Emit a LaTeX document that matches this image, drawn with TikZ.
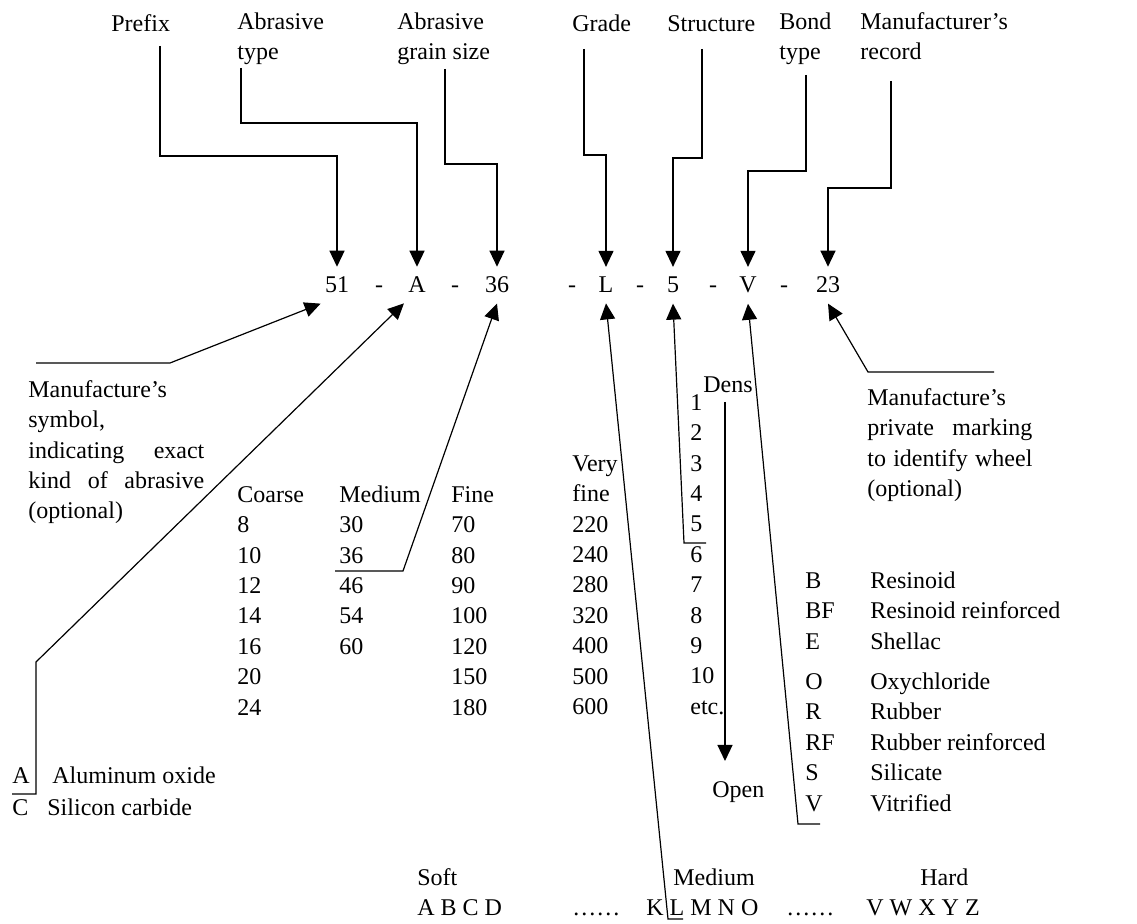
\documentclass[tikz,border=0pt]{standalone}
\usepackage{fontspec}
\setmainfont{Liberation Serif}
\usetikzlibrary{arrows.meta}
\tikzset{
  lbl/.style={inner sep=0pt, anchor=north west, align=left, yshift=10.64pt,
    execute at begin node=\strut},
  code/.style={inner xsep=2pt, inner ysep=5pt, anchor=base},
  arr/.style={-{Triangle[length=8pt,width=7.5pt]}, line width=0.6pt},
}
\newcommand{\jline}[2]{\makebox[#1][s]{#2}}
\begin{document}
\begin{tikzpicture}[x=0.5pt,y=-0.5pt,
  every node/.style={font=\fontsize{12}{15.2}\selectfont}]
\useasboundingbox (0,0) rectangle (1137,924);
% the marking
\node[code] (c51) at (337,293) {51};
\node[code] (d1) at (379,293) {-};
\node[code] (cA) at (417,293) {A};
\node[code] (d2) at (455,293) {-};
\node[code] (c36) at (497,293) {36};
\node[code] (d3) at (572,293) {-};
\node[code] (cL) at (606,293) {L};
\node[code] (d4) at (640,293) {-};
\node[code] (c5) at (673,293) {5};
\node[code] (d5) at (713,293) {-};
\node[code] (cV) at (748,293) {V};
\node[code] (d6) at (784,293) {-};
\node[code] (c23) at (828,293) {23};
% headings
\node[lbl] (tPrefix) at (111,31) {Prefix};
\node[lbl] (tType) at (237,29) {\strut Abrasive\\type};
\node[lbl] (tGrain) at (397,29) {\strut Abrasive\\grain size};
\node[lbl] (tGrade) at (572,31) {Grade};
\node[lbl] (tStruct) at (667,31) {Structure};
\node[lbl] (tBond) at (779,29) {\strut Bond\\type};
\node[lbl] (tRecord) at (860,29) {\strut Manufacturer's\\record};
\coordinate (pfxs) at (160,46);
\coordinate (types) at (241,68);
\coordinate (grains) at (445,69);
\coordinate (grades) at (584,49);
\coordinate (structs) at (702,49);
\coordinate (bonds) at (806,75);
\coordinate (records) at (891,81);
\draw[arr] (pfxs) -- (pfxs |- 0,156) -| (c51.north);
\draw[arr] (types) -- (types |- 0,123) -| (cA.north);
\draw[arr] (grains) -- (grains |- 0,164) -| (c36.north);
\draw[arr] (grades) -- (grades |- 0,155) -| (cL.north);
\draw[arr] (structs) -- (structs |- 0,158) -| (c5.north);
\draw[arr] (bonds) -- (bonds |- 0,171) -| (cV.north);
\draw[arr] (records) -- (records |- 0,188) -| (c23.north);
% explanations
\node[lbl] (symText) at (28,397) {\strut Manufacture's\\symbol,\\\jline{88pt}{indicating exact}\\\jline{88pt}{kind of abrasive}\\(optional)};
\node[lbl] (privText) at (867,405) {\strut Manufacture's\\\jline{82.5pt}{private marking}\\\jline{82.5pt}{to identify wheel}\\(optional)};
\node[lbl] (colCoarse) at (237,502) {\strut Coarse\\8\\10\\12\\14\\16\\20\\24};
\node[lbl] (colMedium) at (339,502) {\strut Medium\\30\\36\\46\\54\\60};
\node[lbl] (colFine) at (451,502) {\strut Fine\\70\\80\\90\\100\\120\\150\\180};
\node[lbl] (colVfine) at (572,471) {\strut Very\\fine\\220\\240\\280\\320\\400\\500\\600};
\node[lbl] (tDens) at (703,392) {Dens};
\node[lbl] (colDens) at (690,410) {\strut 1\\2\\3\\4\\5\\6\\7\\8\\9\\10\\etc.};
\node[lbl] (tOpen) at (712,797) {Open};
\node[lbl] (colBond) at (805,588) {\strut B\\BF\\E\\[5pt]O\\R\\RF\\S\\V};
\node[lbl] (colBondName) at (870,588) {\strut Resinoid\\Resinoid reinforced\\Shellac\\[5pt]Oxychloride\\Rubber\\Rubber reinforced\\Silicate\\Vitrified};
\node[lbl] (tA) at (12,783) {A};
\node[lbl] (tAlu) at (52,783) {Aluminum oxide};
\node[lbl] (tC) at (12,815) {C};
\node[lbl] (tSil) at (47,815) {Silicon carbide};
\node[lbl] (tSoft) at (417,885) {Soft};
\node[lbl] (tABCD) at (417,915) {A B C D};
\node[lbl] (dots1) at (572,915) {……};
\node[lbl] (tMid) at (673,885) {Medium};
\node[lbl] (tKLMNO) at (646,915) {K L M N O};
\node[lbl] (dots2) at (786,915) {……};
\node[lbl] (tHard) at (920,885) {Hard};
\node[lbl] (tVWXYZ) at (866,915) {V W X Y Z};
% leaders from below
\coordinate (symA) at (36,363);
\coordinate (symB) at (170,363);
\coordinate (aA) at (12,794);
\coordinate (aB) at (36,794);
\coordinate (aC) at (36,662);
\coordinate (gA) at (335,571);
\coordinate (gB) at (403,571);
\coordinate (lA) at (683,919);
\coordinate (lB) at (668,919);
\coordinate (sA) at (706,543);
\coordinate (sB) at (684,543);
\coordinate (vA) at (820,824);
\coordinate (vB) at (798,824);
\coordinate (rA) at (994,372);
\coordinate (rB) at (868,372);
\coordinate (densTop) at (725,402);
\coordinate (densBot) at (725,761);
\draw[arr] (symA) -- (symB) -- (c51.south west);
\draw[arr] (aA) -- (aB) -- (aC) -- (cA.south west);
\draw[arr] (gA) -- (gB) -- (c36.south);
\draw[arr] (lA) -- (lB) -- (cL.south);
\draw[arr] (sA) -- (sB) -- (c5.south);
\draw[arr] (vA) -- (vB) -- (cV.south);
\draw[arr] (rA) -- (rB) -- (c23.south);
\draw[arr] (densTop) -- (densBot);
\end{tikzpicture}
\end{document}
